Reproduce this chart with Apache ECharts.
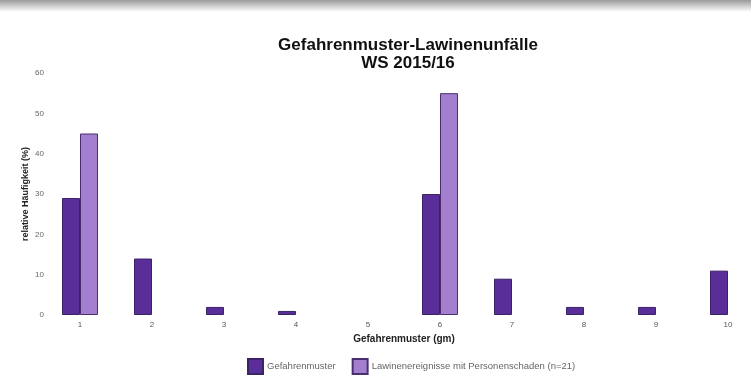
<!DOCTYPE html>
<html><head><meta charset="utf-8">
<script src="https://cdn.jsdelivr.net/npm/echarts@6/dist/echarts.min.js"></script>
<style>html,body{margin:0;padding:0;background:#fff}#c{width:751px;height:376px}</style>
</head><body><div id="c"></div>
<script>
const categories = ['1','2','3','4','5','6','7','8','9','10'];
const gefahrenmuster = [29, 14, 2, 1, 0, 30, 9, 2, 2, 11];
const lawinenereignisse = [45, null, null, null, null, 55, null, null, null, null];
const yTicks = [0, 10, 20, 30, 40, 50, 60];

const chart = echarts.init(document.getElementById('c'));
chart.setOption({
  animation: false,
  backgroundColor: '#ffffff',
  graphic: [{
    type: 'rect', left: 0, top: 0, shape: {width: 751, height: 12},
    style: {fill: new echarts.graphic.LinearGradient(0,0,0,1,[{offset:0,color:'#9a9a9a'},{offset:0.6,color:'#d8d8d8'},{offset:1,color:'#ffffff'}])},
    silent: true
  }],
  title: {
    text: 'Gefahrenmuster-Lawinenunfälle\nWS 2015/16',
    left: 403, top: 31, textAlign: 'center',
    textStyle: {fontFamily: 'Liberation Sans', fontWeight: 'bold', fontSize: 17, lineHeight: 18, color: '#111'}
  },
  legend: {
    top: 353, left: 242, itemWidth: 15, itemHeight: 15, itemGap: 16,
    icon: 'rect',
    textStyle: {fontFamily: 'Liberation Sans', fontSize: 9.5, color: '#666', padding: [0, 0, 0, -1]},
    data: ['Gefahrenmuster', 'Lawinenereignisse mit Personenschaden (n=21)']
  },
  grid: {left: 80, right: 23, top: 73, height: 242},
  xAxis: {
    type: 'category', data: categories, boundaryGap: false,
    name: 'Gefahrenmuster (gm)', nameLocation: 'middle', nameGap: 17,
    nameTextStyle: {fontFamily: 'Liberation Sans', fontWeight: 'bold', fontSize: 10, color: '#222'},
    axisLine: {show: false}, axisTick: {show: false},
    axisLabel: {fontFamily: 'Liberation Sans', fontSize: 8, color: '#555', margin: 6}
  },
  yAxis: {
    type: 'value', min: yTicks[0], max: yTicks[yTicks.length-1], interval: 10,
    name: 'relative Häufigkeit (%)', nameLocation: 'middle', nameGap: 50, nameRotate: 90,
    nameMoveOverlap: false,
    nameTextStyle: {fontFamily: 'Liberation Sans', fontWeight: 'bold', fontSize: 9, color: '#222'},
    axisLine: {show: false}, axisTick: {show: false},
    splitLine: {show: false},
    axisLabel: {fontFamily: 'Liberation Sans', fontSize: 8, color: '#666', margin: 36}
  },
  series: [{
    name: 'Gefahrenmuster', type: 'bar',
    data: gefahrenmuster.map(v => v === 0 ? '-' : v),
    barWidth: 18, barGap: '0%',
    itemStyle: {color: '#5a2e99', borderColor: '#3b2466', borderWidth: 1}
  }, {
    name: 'Lawinenereignisse mit Personenschaden (n=21)', type: 'bar', data: lawinenereignisse,
    barWidth: 18,
    itemStyle: {color: '#a47fd0', borderColor: '#4a2f70', borderWidth: 1}
  }]
});
</script></body></html>
